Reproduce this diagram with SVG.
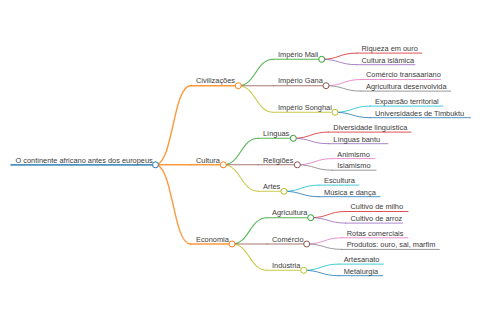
<svg xmlns="http://www.w3.org/2000/svg" width="480" height="320" viewBox="0 0 480 320">
<style>
text{font-family:"Liberation Sans",Arial,sans-serif;font-size:7.4px;fill:#3a3a3a}
path,line{fill:none;stroke-linecap:round;stroke-opacity:0.8}
circle{fill:#fff;stroke-width:1}
.l0{stroke-width:1.7}.l1{stroke-width:1.4}.l2{stroke-width:1.1}.l3{stroke-width:1}
.blue{stroke:#1f77b4}.orange{stroke:#ff7f0e}.green{stroke:#2ca02c}.brown{stroke:#8c564b}.olive{stroke:#bcbd22}
.red{stroke:#d62728}.purple{stroke:#9467bd}.pink{stroke:#e377c2}.gray{stroke:#7f7f7f}.cyan{stroke:#17becf}
</style>
<rect width="480" height="320" fill="#fff"/>
<g id="connectors">
<path class="l1 orange" d="M155.5 164.8C173 164.8 173 85.7 190.5 85.7"/>
<path class="l1 orange" d="M155.5 164.8L190.5 164.8"/>
<path class="l1 orange" d="M155.5 164.8C173 164.8 173 244 190.5 244"/>
<path class="l2 green" d="M238.3 85.7C255.8 85.7 255.8 59.3 273.3 59.3"/>
<path class="l2 brown" d="M238.3 85.7L273.3 85.7"/>
<path class="l2 olive" d="M238.3 85.7C255.8 85.7 255.8 112.3 273.3 112.3"/>
<path class="l2 green" d="M223.3 164.8C240.8 164.8 240.8 138.3 258.3 138.3"/>
<path class="l2 brown" d="M223.3 164.8L258.3 164.8"/>
<path class="l2 olive" d="M223.3 164.8C240.8 164.8 240.8 191.3 258.3 191.3"/>
<path class="l2 green" d="M232 244C249.5 244 249.5 217.7 267 217.7"/>
<path class="l2 brown" d="M232 244L267 244"/>
<path class="l2 olive" d="M232 244C249.5 244 249.5 270.3 267 270.3"/>
<path class="l3 red" d="M321.7 59.3C339.2 59.3 339.2 53.1 356.7 53.1"/>
<path class="l3 purple" d="M321.7 59.3C339.2 59.3 339.2 64.7 356.7 64.7"/>
<path class="l3 pink" d="M326 85.7C343.5 85.7 343.5 79.5 361 79.5"/>
<path class="l3 gray" d="M326 85.7C343.5 85.7 343.5 91.1 361 91.1"/>
<path class="l3 cyan" d="M335 112.3C352.5 112.3 352.5 106.1 370 106.1"/>
<path class="l3 blue" d="M335 112.3C352.5 112.3 352.5 117.7 370 117.7"/>
<path class="l3 red" d="M293.3 138.3C310.8 138.3 310.8 132.1 328.3 132.1"/>
<path class="l3 purple" d="M293.3 138.3C310.8 138.3 310.8 143.7 328.3 143.7"/>
<path class="l3 pink" d="M297.3 164.8C314.8 164.8 314.8 158.6 332.3 158.6"/>
<path class="l3 gray" d="M297.3 164.8C314.8 164.8 314.8 170.2 332.3 170.2"/>
<path class="l3 cyan" d="M284 191.3C301.5 191.3 301.5 185.1 319 185.1"/>
<path class="l3 blue" d="M284 191.3C301.5 191.3 301.5 196.7 319 196.7"/>
<path class="l3 red" d="M310.7 217.7C328.2 217.7 328.2 211.5 345.7 211.5"/>
<path class="l3 purple" d="M310.7 217.7C328.2 217.7 328.2 223.1 345.7 223.1"/>
<path class="l3 pink" d="M306.7 244C324.2 244 324.2 237.8 341.7 237.8"/>
<path class="l3 gray" d="M306.7 244C324.2 244 324.2 249.4 341.7 249.4"/>
<path class="l3 cyan" d="M303.7 270.3C321.2 270.3 321.2 264.1 338.7 264.1"/>
<path class="l3 blue" d="M303.7 270.3C321.2 270.3 321.2 275.7 338.7 275.7"/>
</g>
<g id="n-root"><line class="l0 blue" x1="11" y1="164.8" x2="155.5" y2="164.8"/><circle class="blue" cx="155.5" cy="164.8" r="3"/><text x="15.5" y="162.5">O continente africano antes dos europeus</text></g>
<g id="n-civ"><line class="l1 orange" x1="190.5" y1="85.7" x2="238.3" y2="85.7"/><circle class="orange" cx="238.3" cy="85.7" r="3"/><text x="196" y="83.4">Civilizações</text></g>
<g id="n-cultura"><line class="l1 orange" x1="190.5" y1="164.8" x2="223.3" y2="164.8"/><circle class="orange" cx="223.3" cy="164.8" r="3"/><text x="196" y="162.5">Cultura</text></g>
<g id="n-economia"><line class="l1 orange" x1="190.5" y1="244" x2="232" y2="244"/><circle class="orange" cx="232" cy="244" r="3"/><text x="196" y="241.7">Economia</text></g>
<g id="n-mali"><line class="l2 green" x1="273.3" y1="59.3" x2="321.7" y2="59.3"/><circle class="green" cx="321.7" cy="59.3" r="3"/><text x="278" y="57">Império Mali</text></g>
<g id="n-gana"><line class="l2 brown" x1="273.3" y1="85.7" x2="326" y2="85.7"/><circle class="brown" cx="326" cy="85.7" r="3"/><text x="278" y="83.4">Império Gana</text></g>
<g id="n-songhai"><line class="l2 olive" x1="273.3" y1="112.3" x2="335" y2="112.3"/><circle class="olive" cx="335" cy="112.3" r="3"/><text x="278" y="110">Império Songhai</text></g>
<g id="n-linguas"><line class="l2 green" x1="258.3" y1="138.3" x2="293.3" y2="138.3"/><circle class="green" cx="293.3" cy="138.3" r="3"/><text x="263" y="136">Línguas</text></g>
<g id="n-religioes"><line class="l2 brown" x1="258.3" y1="164.8" x2="297.3" y2="164.8"/><circle class="brown" cx="297.3" cy="164.8" r="3"/><text x="263" y="162.5">Religiões</text></g>
<g id="n-artes"><line class="l2 olive" x1="258.3" y1="191.3" x2="284" y2="191.3"/><circle class="olive" cx="284" cy="191.3" r="3"/><text x="263" y="189">Artes</text></g>
<g id="n-agricultura"><line class="l2 green" x1="267" y1="217.7" x2="310.7" y2="217.7"/><circle class="green" cx="310.7" cy="217.7" r="3"/><text x="272" y="215.4">Agricultura</text></g>
<g id="n-comercio"><line class="l2 brown" x1="267" y1="244" x2="306.7" y2="244"/><circle class="brown" cx="306.7" cy="244" r="3"/><text x="272" y="241.7">Comércio</text></g>
<g id="n-industria"><line class="l2 olive" x1="267" y1="270.3" x2="303.7" y2="270.3"/><circle class="olive" cx="303.7" cy="270.3" r="3"/><text x="272" y="268">Indústria</text></g>
<g id="n-riqueza"><line class="l3 red" x1="356.7" y1="53.1" x2="421.7" y2="53.1"/><text x="361.5" y="51">Riqueza em ouro</text></g>
<g id="n-islamica"><line class="l3 purple" x1="356.7" y1="64.7" x2="415" y2="64.7"/><text x="361.5" y="62.6">Cultura islâmica</text></g>
<g id="n-transaariano"><line class="l3 pink" x1="361" y1="79.5" x2="440.7" y2="79.5"/><text x="366" y="77.4">Comércio transaariano</text></g>
<g id="n-desenvolvida"><line class="l3 gray" x1="361" y1="91.1" x2="450.7" y2="91.1"/><text x="366" y="89">Agricultura desenvolvida</text></g>
<g id="n-expansao"><line class="l3 cyan" x1="370" y1="106.1" x2="443" y2="106.1"/><text x="375" y="104">Expansão territorial</text></g>
<g id="n-universidades"><line class="l3 blue" x1="370" y1="117.7" x2="470.5" y2="117.7"/><text x="375" y="115.6">Universidades de Timbuktu</text></g>
<g id="n-diversidade"><line class="l3 red" x1="328.3" y1="132.1" x2="411" y2="132.1"/><text x="333.3" y="130">Diversidade linguística</text></g>
<g id="n-bantu"><line class="l3 purple" x1="328.3" y1="143.7" x2="388" y2="143.7"/><text x="333.3" y="141.6">Línguas bantu</text></g>
<g id="n-animismo"><line class="l3 pink" x1="332.3" y1="158.6" x2="375" y2="158.6"/><text x="337.3" y="156.5">Animismo</text></g>
<g id="n-islamismo"><line class="l3 gray" x1="332.3" y1="170.2" x2="376" y2="170.2"/><text x="337.3" y="168.1">Islamismo</text></g>
<g id="n-escultura"><line class="l3 cyan" x1="319" y1="185.1" x2="359" y2="185.1"/><text x="324" y="183">Escultura</text></g>
<g id="n-musica"><line class="l3 blue" x1="319" y1="196.7" x2="380" y2="196.7"/><text x="324" y="194.6">Música e dança</text></g>
<g id="n-milho"><line class="l3 red" x1="345.7" y1="211.5" x2="408" y2="211.5"/><text x="350.5" y="209.4">Cultivo de milho</text></g>
<g id="n-arroz"><line class="l3 purple" x1="345.7" y1="223.1" x2="402.7" y2="223.1"/><text x="350.5" y="221">Cultivo de arroz</text></g>
<g id="n-rotas"><line class="l3 pink" x1="341.7" y1="237.8" x2="408" y2="237.8"/><text x="346.7" y="235.7">Rotas comerciais</text></g>
<g id="n-produtos"><line class="l3 gray" x1="341.7" y1="249.4" x2="439.3" y2="249.4"/><text x="346.7" y="247.3">Produtos: ouro, sal, marfim</text></g>
<g id="n-artesanato"><line class="l3 cyan" x1="338.7" y1="264.1" x2="383.3" y2="264.1"/><text x="343.7" y="262">Artesanato</text></g>
<g id="n-metalurgia"><line class="l3 blue" x1="338.7" y1="275.7" x2="382.7" y2="275.7"/><text x="343.7" y="273.6">Metalurgia</text></g>
</svg>
